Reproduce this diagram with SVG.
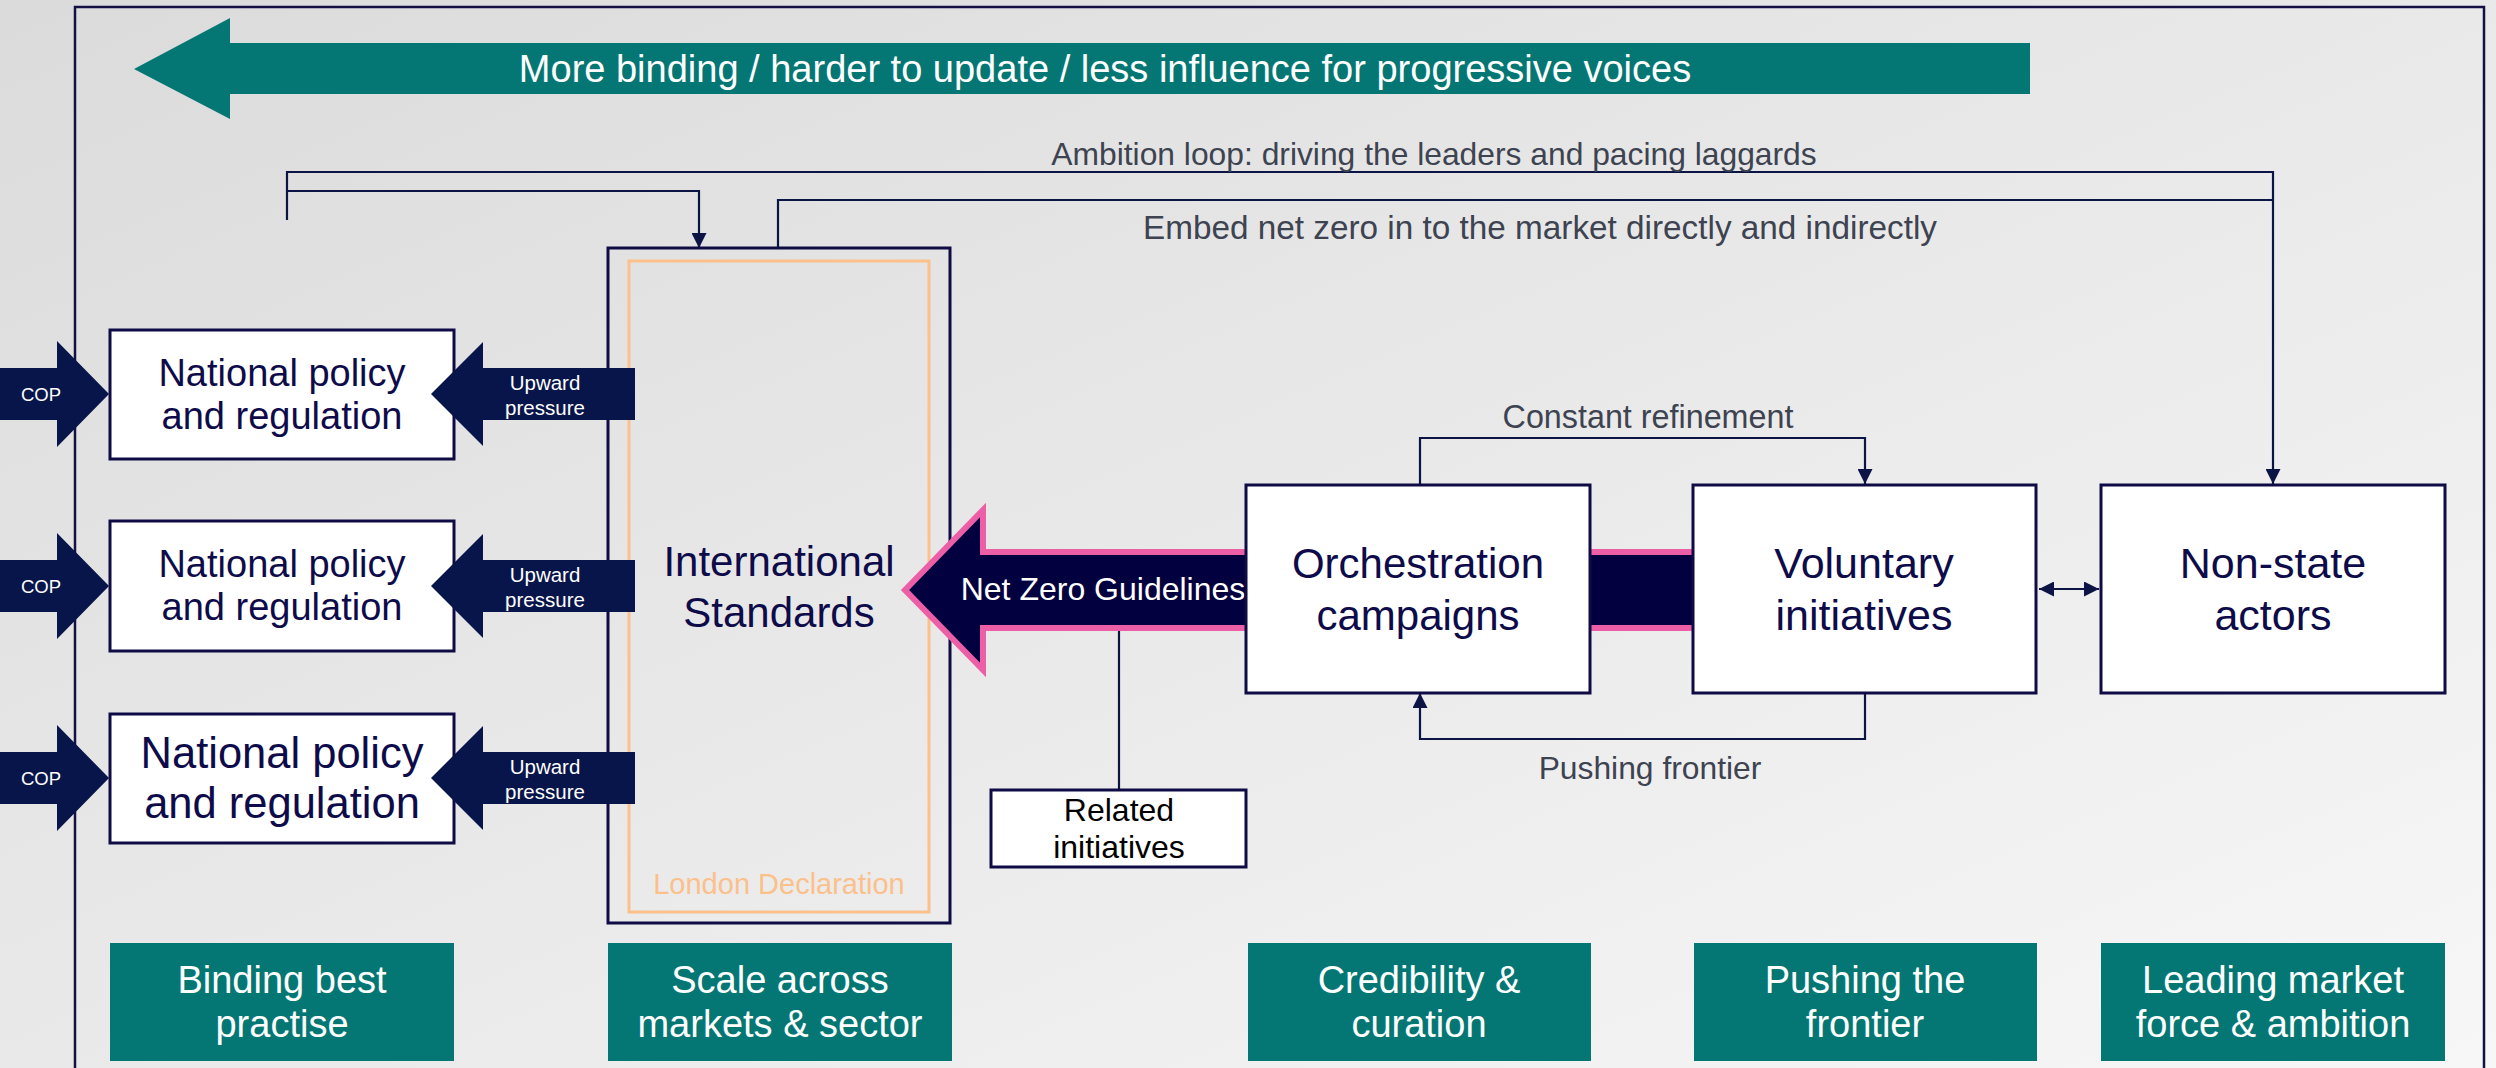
<svg xmlns="http://www.w3.org/2000/svg" width="2496" height="1068" viewBox="0 0 2496 1068">
<defs>
<linearGradient id="bg" x1="0" y1="0" x2="1" y2="1">
<stop offset="0" stop-color="#dbdbdb"/>
<stop offset="1" stop-color="#f7f7f7"/>
</linearGradient>
<marker id="ah" markerUnits="userSpaceOnUse" markerWidth="15" markerHeight="15" viewBox="0 0 10 10" refX="10" refY="5" orient="auto-start-reverse">
<path d="M0,0 L10,5 L0,10 z" fill="#0b1445"/>
</marker>
<style>
text{font-family:"Liberation Sans",Arial,sans-serif;text-anchor:middle}
.box{fill:#ffffff;stroke:#0e0b45;stroke-width:3}
.btxt{fill:#0e0b4a}
.teal{fill:#047774}
.ttxt{fill:#ffffff;font-size:38px}
.navy{fill:#08154a}
.wtxt{fill:#ffffff}
.lbl{fill:#3d4350}
.conn{fill:none;stroke:#0b1445;stroke-width:2.2}
</style>
</defs>
<rect x="0" y="0" width="2496" height="1068" fill="url(#bg)"/>
<rect id="frame" x="75" y="7" width="2409" height="1080" fill="none" stroke="#141046" stroke-width="2.5"/>

<g id="direction-arrow">
<polygon class="teal" points="134,69 230,18 230,43 2030,43 2030,94 230,94 230,119"/>
<text class="wtxt" x="1105" y="82" font-size="38">More binding / harder to update / less influence for progressive voices</text>
</g>

<g id="connectors">
<path class="conn" stroke-width="3" d="M287,220 V172 H2273 V484" marker-end="url(#ah)"/>
<path class="conn" stroke-width="2.5" d="M287,191 H699 V248" marker-end="url(#ah)"/>
<path class="conn" d="M778,248 V200 H2273"/>
<path class="conn" d="M1420,484 V438 H1865 V484" marker-end="url(#ah)"/>
<path class="conn" d="M1865,693 V739 H1420 V693" marker-end="url(#ah)"/>
<path class="conn" stroke-width="3" d="M2039,589 H2099" marker-start="url(#ah)" marker-end="url(#ah)"/>
<path class="conn" stroke="#4a4f6a" d="M1119,631 V790"/>
<text class="lbl" x="1434" y="165" font-size="31.8">Ambition loop: driving the leaders and pacing laggards</text>
<text class="lbl" x="1540" y="239" font-size="33.3">Embed net zero in to the market directly and indirectly</text>
<text class="lbl" x="1648" y="428" font-size="32.3">Constant refinement</text>
<text class="lbl" x="1650" y="779" font-size="31.8">Pushing frontier</text>
</g>

<g id="international-standards">
<rect x="608" y="248" width="342" height="675" fill="none" stroke="#0e0b45" stroke-width="3"/>
<rect x="629" y="261" width="300" height="651" fill="none" stroke="#fcc08a" stroke-width="3"/>
<text class="btxt" x="779" y="576" font-size="42">International</text>
<text class="btxt" x="779" y="627" font-size="42">Standards</text>
<text x="779" y="894" font-size="29" fill="#fcc08a">London Declaration</text>
</g>

<g id="policy-1">
<polygon class="navy" points="0,368 57,368 57,341 109,394 57,447 57,420 0,420"/>
<text class="wtxt" x="41" y="401" font-size="18.5">COP</text>
<rect class="box" x="110" y="330" width="344" height="129"/>
<text class="btxt" x="282" y="386" font-size="38">National policy</text>
<text class="btxt" x="282" y="429" font-size="38">and regulation</text>
<polygon class="navy" points="431,394 483,342 483,368 635,368 635,420 483,420 483,446"/>
<text class="wtxt" x="545" y="390" font-size="20.5">Upward</text>
<text class="wtxt" x="545" y="415" font-size="20.5">pressure</text>
</g>

<g id="policy-2">
<polygon class="navy" points="0,560 57,560 57,533 109,586 57,639 57,612 0,612"/>
<text class="wtxt" x="41" y="593" font-size="18.5">COP</text>
<rect class="box" x="110" y="521" width="344" height="130"/>
<text class="btxt" x="282" y="577" font-size="38">National policy</text>
<text class="btxt" x="282" y="620" font-size="38">and regulation</text>
<polygon class="navy" points="431,586 483,534 483,560 635,560 635,612 483,612 483,638"/>
<text class="wtxt" x="545" y="582" font-size="20.5">Upward</text>
<text class="wtxt" x="545" y="607" font-size="20.5">pressure</text>
</g>

<g id="policy-3">
<polygon class="navy" points="0,752 57,752 57,725 109,778 57,831 57,804 0,804"/>
<text class="wtxt" x="41" y="785" font-size="18.5">COP</text>
<rect class="box" x="110" y="714" width="344" height="129"/>
<text class="btxt" x="282" y="768" font-size="43.5">National policy</text>
<text class="btxt" x="282" y="818" font-size="43.5">and regulation</text>
<polygon class="navy" points="431,778 483,726 483,752 635,752 635,804 483,804 483,830"/>
<text class="wtxt" x="545" y="774" font-size="20.5">Upward</text>
<text class="wtxt" x="545" y="799" font-size="20.5">pressure</text>
</g>

<g id="net-zero-guidelines">
<path d="M905,590 L983,510 V552 H1700 V628 H983 V670 Z" fill="#03003f" stroke="#ec5fa6" stroke-width="6" stroke-linejoin="miter"/>
<text class="wtxt" x="1103" y="600" font-size="32">Net Zero Guidelines</text>
</g>

<g id="related-initiatives">
<rect class="box" x="991" y="790" width="255" height="77"/>
<text x="1119" y="821" font-size="32" fill="#000000">Related</text>
<text x="1119" y="858" font-size="32" fill="#000000">initiatives</text>
</g>

<g id="orchestration">
<rect class="box" x="1246" y="485" width="344" height="208"/>
<text class="btxt" x="1418" y="578" font-size="42">Orchestration</text>
<text class="btxt" x="1418" y="630" font-size="42">campaigns</text>
</g>

<g id="voluntary">
<rect class="box" x="1693" y="485" width="343" height="208"/>
<text class="btxt" x="1864" y="578" font-size="43">Voluntary</text>
<text class="btxt" x="1864" y="630" font-size="43">initiatives</text>
</g>

<g id="non-state">
<rect class="box" x="2101" y="485" width="344" height="208"/>
<text class="btxt" x="2273" y="578" font-size="43">Non-state</text>
<text class="btxt" x="2273" y="630" font-size="43">actors</text>
</g>

<g id="cat-binding">
<rect class="teal" x="110" y="943" width="344" height="118"/>
<text class="ttxt" x="282" y="993">Binding best</text>
<text class="ttxt" x="282" y="1037">practise</text>
</g>
<g id="cat-scale">
<rect class="teal" x="608" y="943" width="344" height="118"/>
<text class="ttxt" x="780" y="993">Scale across</text>
<text class="ttxt" x="780" y="1037">markets &amp; sector</text>
</g>
<g id="cat-credibility">
<rect class="teal" x="1248" y="943" width="343" height="118"/>
<text class="ttxt" x="1419" y="993">Credibility &amp;</text>
<text class="ttxt" x="1419" y="1037">curation</text>
</g>
<g id="cat-frontier">
<rect class="teal" x="1694" y="943" width="343" height="118"/>
<text class="ttxt" x="1865" y="993">Pushing the</text>
<text class="ttxt" x="1865" y="1037">frontier</text>
</g>
<g id="cat-leading">
<rect class="teal" x="2101" y="943" width="344" height="118"/>
<text class="ttxt" x="2273" y="993">Leading market</text>
<text class="ttxt" x="2273" y="1037">force &amp; ambition</text>
</g>
</svg>
